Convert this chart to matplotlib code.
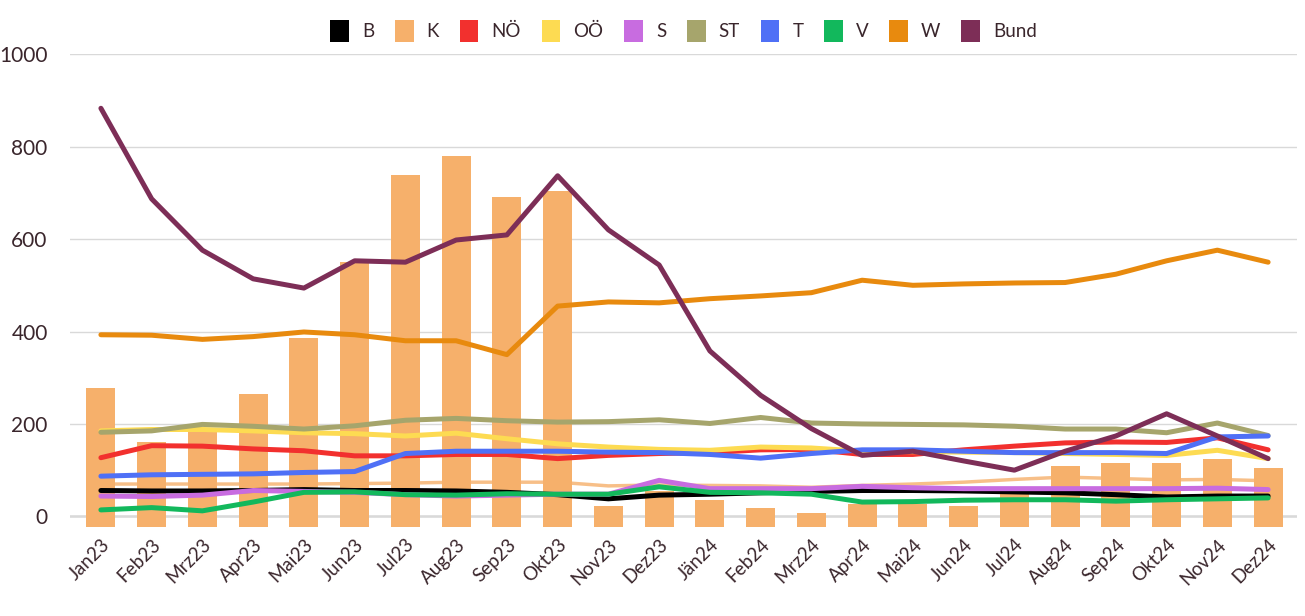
import numpy as np
import matplotlib.pyplot as plt
from matplotlib.patches import Patch

months = ["Jan23", "Feb23", "Mrz23", "Apr23", "Mai23", "Jun23", "Jul23", "Aug23",
          "Sep23", "Okt23", "Nov23", "Dez23", "Jän24", "Feb24", "Mrz24", "Apr24",
          "Mai24", "Jun24", "Jul24", "Aug24", "Sep24", "Okt24", "Nov24", "Dez24"]

# K is drawn as bars (plus a faint line)
k_bars = [278, 160, 183, 264, 385, 551, 739, 780, 692, 703, 22, 56,
          36, 18, 7, 27, 26, 22, 48, 110, 115, 115, 125, 105]
k_line = [70, 70, 70, 70, 70, 71, 72, 74, 74, 74, 66, 68,
          67, 66, 63, 67, 70, 74, 80, 85, 82, 79, 80, 77]

b = [56, 55, 55, 56, 58, 56, 56, 55, 52, 47, 38, 46, 48, 51, 54, 56, 56, 55, 53, 51, 47, 42, 44, 44]
noe = [127, 153, 152, 146, 142, 131, 131, 134, 134, 125, 132, 136,
       138, 144, 145, 134, 134, 144, 152, 159, 161, 160, 170, 144]
ooe = [185, 188, 188, 185, 181, 179, 174, 180, 168, 157, 150, 145,
       143, 150, 148, 141, 140, 139, 138, 136, 134, 132, 143, 125]
s = [44, 43, 46, 56, 54, 52, 47, 44, 46, 48, 48, 78, 60, 60, 60, 65, 62, 60, 60, 60, 60, 60, 61, 58]
st = [182, 185, 199, 195, 189, 196, 208, 212, 207, 204, 205, 209,
      201, 214, 202, 200, 199, 198, 195, 189, 189, 181, 202, 175]
t = [87, 90, 91, 92, 95, 97, 136, 141, 141, 141, 139, 138,
     134, 126, 136, 144, 144, 141, 138, 138, 138, 136, 172, 174]
v = [14, 19, 12, 31, 52, 53, 47, 46, 49, 48, 48, 64, 52, 51, 48, 31, 32, 35, 36, 36, 33, 36, 38, 40]
w = [393, 392, 383, 389, 399, 393, 380, 380, 350, 455, 464, 462,
     471, 477, 484, 511, 500, 503, 505, 506, 524, 553, 576, 550]
bund = [883, 687, 576, 514, 494, 553, 550, 598, 609, 737, 620, 544,
        358, 262, 190, 132, 141, 120, 100, 141, 174, 222, 174, 125]

names = ["B", "K", "NÖ", "OÖ", "S", "ST", "T", "V", "W", "Bund"]
colors = {"B": "#000000", "K": "#F6B06B", "NÖ": "#F2302E", "OÖ": "#FDDB52",
          "S": "#C86CE0", "ST": "#A6A56C", "T": "#4F70F6", "V": "#12B85C",
          "W": "#E88A0E", "Bund": "#7D2E57"}
series = {"B": b, "NÖ": noe, "OÖ": ooe, "S": s, "ST": st, "T": t, "V": v, "W": w, "Bund": bund}

plt.rcParams['font.family'] = ['Lato', 'DejaVu Sans']
text_col = "#3a262c"

fig = plt.figure(figsize=(13.05, 6.16), dpi=100)
ax = fig.add_axes([0.0536, 0.1437, 0.9403, 0.7683])

x = np.arange(len(months))
y_min = -24
ax.bar(x, np.array(k_bars) - y_min, bottom=y_min, width=0.57, color=colors["K"], zorder=2)
ax.plot(x, k_line, color=colors["K"], lw=2.5, zorder=2.5, alpha=0.8)

for n in names:
    if n == "K":
        continue
    ax.plot(x, series[n], color=colors[n], lw=3.6, zorder=3, solid_capstyle='round',
            solid_joinstyle='round')

ax.set_xlim(-0.61, 23.57)
ax.set_ylim(y_min, 1000)
ax.set_yticks([0, 200, 400, 600, 800, 1000])
ax.grid(axis='y', color="#D9D9D9", lw=1, zorder=0)
ax.axhline(0, color="#707070", lw=1, zorder=1)
for sp in ax.spines.values():
    sp.set_visible(False)
ax.tick_params(axis='both', length=0, labelcolor=text_col)
ax.tick_params(axis='y', pad=16, labelsize=15)
ax.set_xticks(x)
ax.set_xticklabels(months, rotation=45, ha='right', rotation_mode='anchor', fontsize=13.5)
ax.tick_params(axis='x', pad=6)

handles = [Patch(facecolor=colors[n], edgecolor='none') for n in names]
ax.legend(handles, names, loc='center', bbox_to_anchor=(0.5, 1.0486), ncol=10,
          frameon=False, fontsize=13.5, handlelength=1.0, handleheight=1.4,
          handletextpad=0.7, columnspacing=1.1, labelcolor=text_col)

fig.savefig("out.png", dpi=100)
